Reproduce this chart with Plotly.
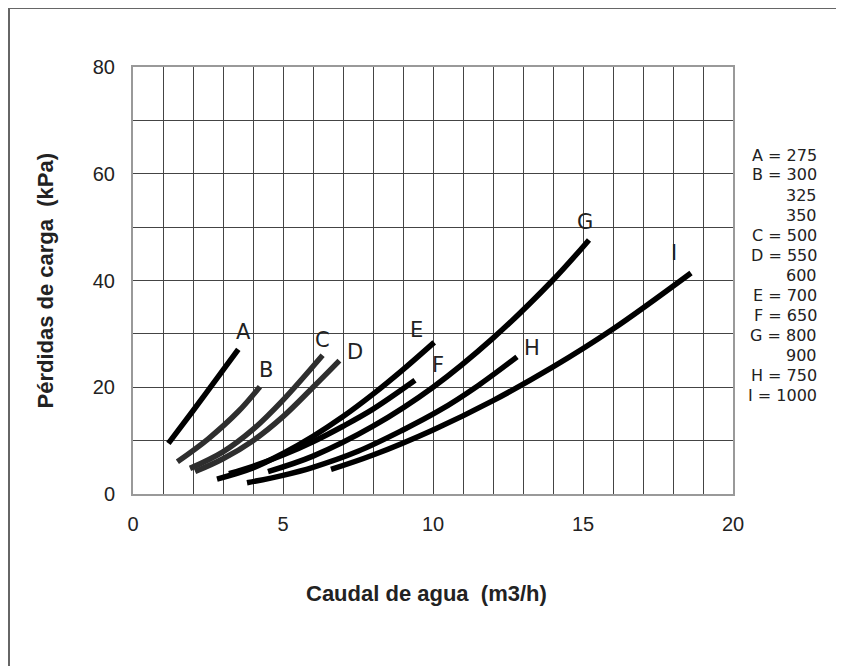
"""Pérdidas de carga vs caudal de agua (Plotly)."""

import plotly.graph_objects as go

# curve points (caudal m3/h, pérdida kPa)
curve_names = ["A", "B", "C", "D", "E", "F", "G", "H", "I"]
a_x = [1.18, 2.0, 3.0, 3.51]
a_y = [9.5, 15.6, 23.2, 27.1]
b_x = [1.48, 2.5, 3.5, 4.23]
b_y = [6.05, 10.3, 15.4, 20.1]
c_x = [1.9, 3.0, 4.0, 5.0, 6.32]
c_y = [4.8, 7.9, 12.1, 17.6, 26.0]
d_x = [2.07, 3.0, 4.0, 5.0, 6.0, 6.88]
d_y = [4.2, 6.6, 10.0, 14.5, 20.0, 25.0]
e_x = [2.8, 4.0, 5.0, 6.0, 7.0, 8.0, 9.0, 10.04]
e_y = [2.8, 4.9, 7.6, 10.8, 14.5, 18.7, 23.3, 28.4]
f_x = [3.2, 4.0, 5.0, 6.0, 7.0, 8.0, 9.4]
f_y = [3.8, 5.2, 7.3, 9.8, 12.7, 15.9, 21.3]
g_x = [4.5, 6.0, 8.0, 10.0, 12.0, 14.0, 15.2]
g_y = [4.2, 7.1, 12.7, 20.0, 29.2, 40.1, 47.6]
h_x = [3.8, 5.0, 6.0, 7.5, 9.0, 10.2, 11.5, 12.8]
h_y = [2.1, 3.5, 5.0, 8.0, 12.0, 15.6, 20.3, 25.7]
i_x = [6.6, 8.0, 10.0, 12.0, 14.0, 16.0, 18.6]
i_y = [4.6, 7.3, 12.0, 17.5, 23.8, 30.9, 41.4]

# letter label anchors
label_x = [3.67, 4.42, 6.32, 7.4, 9.46, 10.16, 15.07, 13.29, 18.03]
label_y = [30.4, 23.2, 28.8, 26.6, 30.8, 24.2, 51.0, 27.3, 45.2]

legend_rows = ["A = 275", "B = 300", "325", "350", "C = 500", "D = 550", "600",
               "E = 700", "F = 650", "G = 800", "900", "H = 750", "I = 1000"]

curves_x = [a_x, b_x, c_x, d_x, e_x, f_x, g_x, h_x, i_x]
curves_y = [a_y, b_y, c_y, d_y, e_y, f_y, g_y, h_y, i_y]
curve_colors = ["#000000", "#2e2e2e", "#2e2e2e", "#2e2e2e",
                "#000000", "#000000", "#000000", "#000000", "#000000"]

# the page puts the figure 8px in from the corner; targets below are
# screen pixels, so shift them back by that much
OFF = 8
L, R, T, B = 133 - OFF, 733 - OFF, 67 - OFF, 494 - OFF


def px_x(px):
    return (px - OFF - L) / (R - L)


def px_y(py):
    return (B - (py - OFF)) / (B - T)


fig = go.Figure()
for name, xs, ys, col in zip(curve_names, curves_x, curves_y, curve_colors):
    fig.add_trace(go.Scatter(
        x=xs, y=ys, mode="lines", name=name,
        line=dict(color=col, width=5.5, shape="spline", smoothing=1.0),
        hoverinfo="skip", showlegend=False,
    ))

for name, lx, ly in zip(curve_names, label_x, label_y):
    fig.add_annotation(
        x=lx, y=ly, text=name, showarrow=False,
        font=dict(family="DejaVu Sans", size=21, color="#222"),
    )

for i, row in enumerate(legend_rows):
    fig.add_annotation(
        xref="paper", yref="paper", x=px_x(819), y=px_y(155 + 20 * i),
        xanchor="right", yanchor="middle", text=row, showarrow=False,
        font=dict(family="DejaVu Sans", size=16, color="#222"),
    )

# axis titles
fig.add_annotation(
    xref="paper", yref="paper", x=px_x(426), y=px_y(608),
    text="<b>Caudal de agua  (m3/h)</b>", showarrow=False,
    font=dict(family="Liberation Sans, Arial", size=22, color="#222"),
)
fig.add_annotation(
    xref="paper", yref="paper", x=px_x(30), y=px_y(281), textangle=-90,
    text="<b>Pérdidas de carga  (kPa)</b>", showarrow=False,
    font=dict(family="Liberation Sans, Arial", size=22, color="#222"),
)

# outer frame
fig.add_shape(
    type="rect", xref="paper", yref="paper",
    x0=px_x(9), x1=px_x(841), y0=px_y(690), y1=px_y(8),
    line=dict(color="#666", width=2), layer="below",
)

grid = "#444"
fig.update_layout(
    width=844, height=666,
    margin=dict(l=L, r=844 - R, t=T, b=666 - B),
    paper_bgcolor="white", plot_bgcolor="white",
    font=dict(family="Liberation Sans, Arial", color="#222"),
    xaxis=dict(
        range=[0, 20], dtick=5, tick0=0, showgrid=True, gridcolor=grid, gridwidth=1,
        minor=dict(dtick=1, showgrid=True, gridcolor=grid, gridwidth=1),
        showline=True, mirror=True, linecolor="#999", linewidth=2,
        zeroline=False, ticks="", ticklabelstandoff=11,
        tickfont=dict(size=20, color="#222"), fixedrange=True,
    ),
    yaxis=dict(
        range=[0, 80], dtick=20, tick0=0, showgrid=True, gridcolor=grid, gridwidth=1,
        minor=dict(dtick=10, showgrid=True, gridcolor=grid, gridwidth=1),
        showline=True, mirror=True, linecolor="#999", linewidth=2,
        zeroline=False, ticks="", ticklabelstandoff=12,
        tickfont=dict(size=20, color="#222"), fixedrange=True,
    ),
)

fig.write_html("out.html")
